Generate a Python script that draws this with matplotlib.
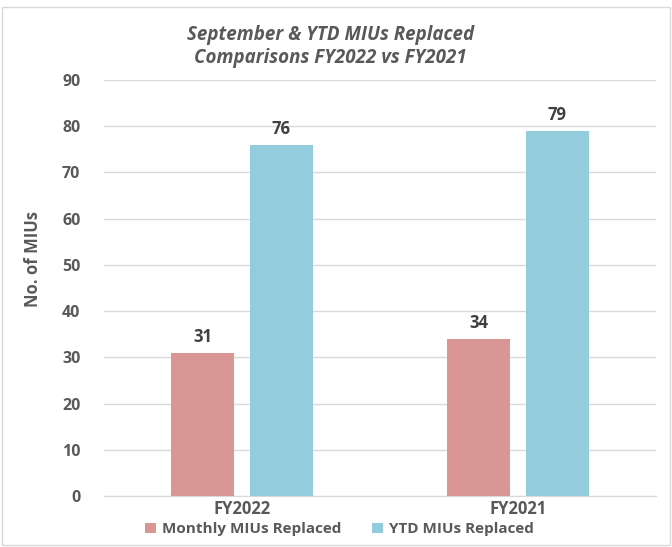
import matplotlib.pyplot as plt
import matplotlib.patches as patches
import numpy as np

categories = ['FY2022', 'FY2021']
monthly = [31, 34]
ytd = [76, 79]
series_names = ['Monthly MIUs Replaced', 'YTD MIUs Replaced']

plt.rcParams['font.family'] = ['Open Sans', 'DejaVu Sans']
gray = '#595959'

fig = plt.figure(figsize=(6.72, 5.47), dpi=100)
ax = fig.add_axes([0.1548, 0.0932, 0.8214, 0.7605])

x = np.arange(len(categories))
w = 0.228
off = 0.143
b1 = ax.bar(x - off, monthly, w, color='#D99694', label=series_names[0], zorder=3)
b2 = ax.bar(x + off, ytd, w, color='#93CDDD', label=series_names[1], zorder=3)

for bars in (b1, b2):
    for r in bars:
        ax.text(r.get_x() + r.get_width() / 2, r.get_height() + 1.5, f'{r.get_height():.0f}',
                ha='center', va='bottom', fontsize=12, fontweight='bold', color='#404040')

ax.set_xlim(-0.5, 1.5)
ax.set_ylim(0, 90)
ax.set_yticks(range(0, 91, 10))
ax.set_xticks(x)
ax.set_xticklabels(categories)
ax.grid(axis='y', color='#D9D9D9', linewidth=1, zorder=0)
for s in ['top', 'right', 'left']:
    ax.spines[s].set_visible(False)
ax.spines['bottom'].set_color('#D9D9D9')
ax.tick_params(axis='both', length=0, colors=gray, labelsize=11.5)
ax.tick_params(axis='y', pad=17)
ax.tick_params(axis='x', pad=3, labelsize=12)
for lab in ax.get_xticklabels() + ax.get_yticklabels():
    lab.set_fontweight('bold')
ax.set_ylabel('No. of MIUs', fontsize=12, fontweight='bold', color=gray)
ax.yaxis.set_label_coords(-0.113, 0.57)

fig.text(0.492, 0.915, 'September & YTD MIUs Replaced\nComparisons FY2022 vs FY2021',
         ha='center', va='center', fontsize=13.5, fontweight='bold', style='italic',
         color=gray, linespacing=1.25)

leg = fig.legend(handles=[b1, b2], loc='center', bbox_to_anchor=(0.505, 0.032), ncol=2,
                 frameon=False, fontsize=11, handlelength=0.7, handleheight=0.7,
                 columnspacing=2.0, handletextpad=0.4)
for t in leg.get_texts():
    t.set_color(gray)
    t.set_fontweight('bold')

fig.patches.append(patches.Rectangle((0.003, 0.003), 0.994, 0.985, transform=fig.transFigure,
                                     fill=False, edgecolor='#D9D9D9', linewidth=1))

fig.savefig('out.png', dpi=100)
